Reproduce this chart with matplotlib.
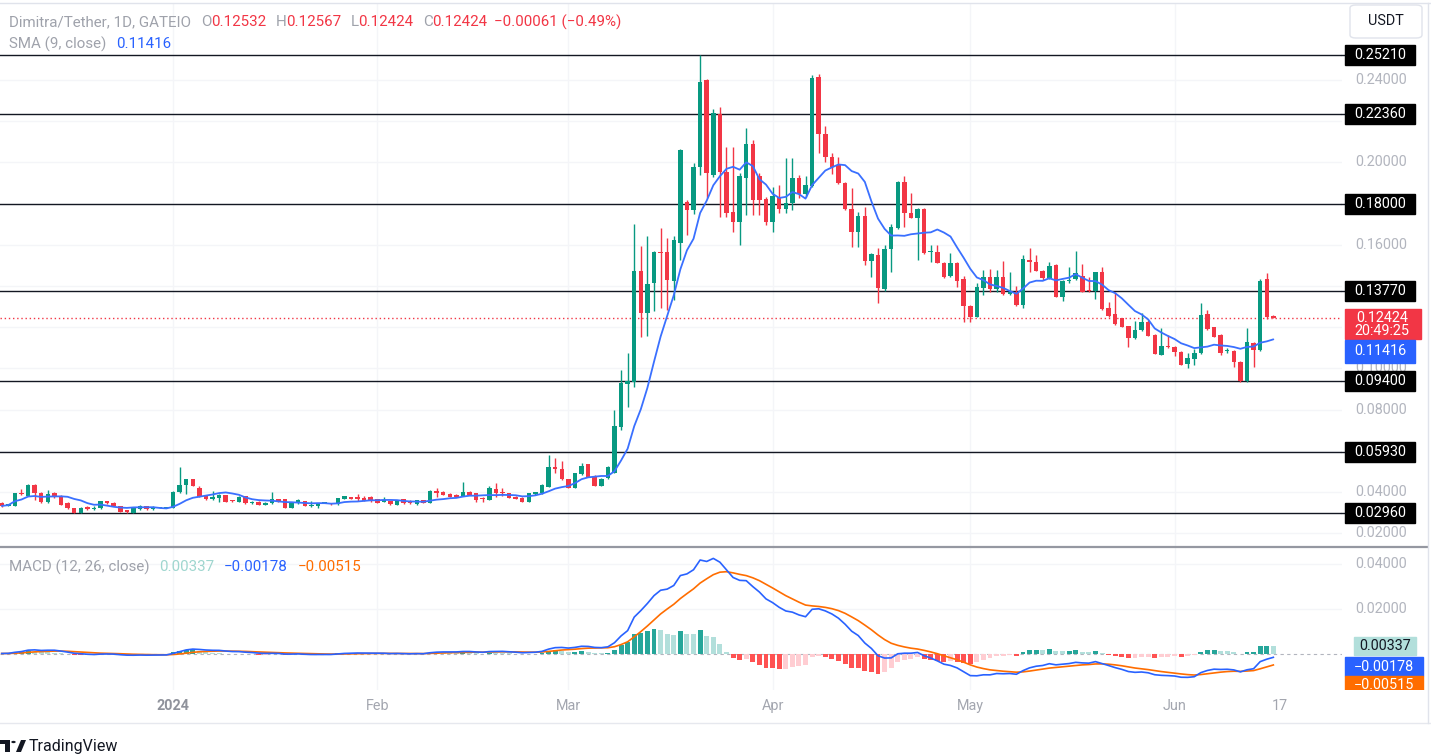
import numpy as np
import pandas as pd
import matplotlib
matplotlib.use('Agg')
import matplotlib.pyplot as plt
import matplotlib.transforms as mtransforms
from matplotlib.patches import Rectangle, Polygon, Circle, FancyBboxPatch

plt.rcParams['font.family'] = ['Roboto', 'DejaVu Sans']

# ---------------- data ----------------
start_date = '2023-12-06'
opens = [.0345,.0332,.0333,.0393,.0382,.0435,.0396,.0350,.0393,.0382,
         .0348,.0320,.0299,.0328,.0316,.0320,.0356,.0348,.0330,.0309,
         .0299,.0316,.0332,.0316,.0322,.0323,.0324,.0398,.0432,.0461,
         .0421,.0383,.0364,.0369,.0383,.0358,.0353,.0380,.0345,.0353,
         .0337,.0345,.0364,.0364,.0324,.0345,.0356,.0332,.0332,.0346,
         .0345,.0340,.0366,.0374,.0370,.0372,.0374,.0364,.0353,.0356,
         .0337,.0364,.0358,.0340,.0361,.0348,.0406,.0401,.0390,.0385,
         .0380,.0401,.0393,.0366,.0361,.0412,.0398,.0393,.0377,.0372,
         .0353,.0388,.0393,.0426,.0523,.0510,.0461,.0421,.0486,.0534,
         .0479,.0429,.0466,.0494,.0717,.0924,.0935,.1474,.1267,.1416,
         .1566,.1563,.1424,.1610,.1809,.1769,.1979,.2400,.1939,.2235,
         .1955,.1757,.1712,.1922,.2089,.1934,.1820,.1712,.1833,.1772,
         .1801,.1922,.1846,.1885,.2413,.2138,.2027,.1987,.1901,.1772,
         .1663,.1740,.1523,.1550,.1383,.1578,.1680,.1906,.1756,.1731,
         .1772,.1566,.1566,.1513,.1448,.1513,.1432,.1303,.1251,.1388,
         .1442,.1383,.1445,.1361,.1372,.1306,.1526,.1515,.1474,.1437,
         .1502,.1348,.1424,.1432,.1448,.1378,.1375,.1466,.1294,.1264,
         .1243,.1205,.1146,.1186,.1226,.1162,.1065,.1110,.1105,.1081,
         .1021,.1044,.1073,.1264,.1199,.1162,.1084,.1086,.1032,.0940,
         .1124,.1089,.1432,.12532]
highs = [.0350,.0343,.0396,.0414,.0437,.0437,.0400,.0409,.0401,.0385,
         .0350,.0322,.0326,.0330,.0330,.0358,.0358,.0350,.0332,.0312,
         .0328,.0335,.0334,.0330,.0325,.0326,.0405,.0519,.0465,.0463,
         .0430,.0385,.0404,.0388,.0385,.0362,.0382,.0382,.0355,.0355,
         .0350,.0401,.0366,.0366,.0350,.0364,.0358,.0356,.0347,.0350,
         .0347,.0372,.0382,.0377,.0390,.0380,.0380,.0366,.0374,.0358,
         .0363,.0366,.0360,.0363,.0363,.0409,.0417,.0404,.0393,.0388,
         .0450,.0404,.0396,.0377,.0429,.0442,.0417,.0396,.0380,.0374,
         .0396,.0401,.0437,.0579,.0563,.0552,.0463,.0493,.0542,.0536,
         .0481,.0466,.0526,.0798,.0992,.1076,.1701,.1594,.1642,.1570,
         .1680,.1631,.1640,.2065,.1815,.1995,.2521,.2405,.2257,.2267,
         .2075,.2075,.1947,.2165,.2108,.1947,.1833,.1882,.1890,.2019,
         .2019,.1939,.1934,.2424,.2429,.2176,.2044,.2027,.1906,.1874,
         .1761,.1782,.1560,.1583,.1599,.1701,.1911,.1933,.1850,.1777,
         .1777,.1598,.1598,.1515,.1558,.1515,.1448,.1305,.1416,.1477,
         .1480,.1477,.1523,.1469,.1400,.1550,.1583,.1550,.1477,.1518,
         .1505,.1430,.1490,.1571,.1506,.1445,.1468,.1490,.1324,.1372,
         .1246,.1207,.1231,.1270,.1234,.1165,.1194,.1162,.1107,.1083,
         .1073,.1092,.1319,.1283,.1202,.1165,.1097,.1089,.1035,.1194,
         .1126,.1432,.1461,.12567]
lows = [.0328,.0330,.0331,.0386,.0380,.0361,.0348,.0348,.0369,.0335,
        .0318,.0297,.0297,.0314,.0314,.0318,.0343,.0330,.0302,.0300,
        .0297,.0314,.0314,.0312,.0321,.0322,.0322,.0396,.0390,.0427,
        .0375,.0362,.0362,.0353,.0351,.0353,.0351,.0343,.0343,.0335,
        .0335,.0343,.0352,.0322,.0322,.0343,.0330,.0328,.0320,.0345,
        .0338,.0338,.0364,.0365,.0358,.0354,.0351,.0346,.0351,.0338,
        .0335,.0343,.0343,.0338,.0346,.0346,.0374,.0383,.0375,.0375,
        .0378,.0383,.0353,.0353,.0359,.0377,.0380,.0370,.0364,.0351,
        .0351,.0386,.0391,.0424,.0490,.0459,.0419,.0419,.0484,.0472,
        .0427,.0427,.0464,.0490,.0700,.0814,.0911,.1154,.1157,.1279,
        .1291,.1283,.1332,.1526,.1647,.1750,.1939,.1825,.1930,.1736,
        .1736,.1664,.1599,.1744,.1744,.1744,.1696,.1663,.1752,.1752,
        .1769,.1825,.1833,.1880,.2044,.2003,.1943,.1895,.1770,.1591,
        .1591,.1502,.1445,.1319,.1374,.1469,.1675,.1688,.1728,.1526,
        .1555,.1518,.1510,.1440,.1445,.1396,.1226,.1226,.1249,.1356,
        .1372,.1372,.1356,.1358,.1302,.1291,.1469,.1472,.1430,.1435,
        .1345,.1329,.1412,.1429,.1370,.1370,.1335,.1283,.1250,.1210,
        .1199,.1102,.1143,.1183,.1155,.1068,.1063,.1097,.1062,.1014,
        .1000,.1016,.1070,.1186,.1152,.1065,.1073,.1005,.0935,.0935,
        .1008,.1086,.1238,.12424]
closes = [.0332,.0340,.0393,.0388,.0435,.0393,.0350,.0390,.0382,.0337,
          .0320,.0299,.0324,.0316,.0322,.0356,.0345,.0332,.0304,.0305,
          .0320,.0330,.0316,.0324,.0324,.0325,.0401,.0434,.0461,.0429,
          .0377,.0364,.0374,.0385,.0353,.0355,.0377,.0345,.0353,.0337,
          .0348,.0364,.0354,.0324,.0348,.0361,.0332,.0334,.0345,.0348,
          .0340,.0369,.0380,.0367,.0368,.0356,.0361,.0348,.0361,.0340,
          .0361,.0345,.0345,.0361,.0348,.0406,.0396,.0385,.0377,.0377,
          .0401,.0385,.0361,.0364,.0417,.0393,.0396,.0372,.0366,.0353,
          .0393,.0398,.0434,.0523,.0510,.0461,.0421,.0490,.0526,.0474,
          .0429,.0463,.0523,.0720,.0927,.0938,.1474,.1267,.1409,.1566,
          .1560,.1429,.1623,.2060,.1769,.1979,.2392,.1947,.2238,.1955,
          .1753,.1712,.1934,.2089,.1817,.1817,.1712,.1837,.1772,.1801,
          .1922,.1846,.1890,.2408,.2138,.2027,.1976,.1898,.1772,.1663,
          .1739,.1523,.1555,.1388,.1578,.1684,.1903,.1756,.1731,.1772,
          .1558,.1571,.1513,.1445,.1510,.1426,.1303,.1251,.1393,.1442,
          .1383,.1445,.1361,.1372,.1307,.1529,.1515,.1474,.1437,.1497,
          .1348,.1426,.1428,.1461,.1372,.1375,.1466,.1286,.1254,.1215,
          .1202,.1146,.1186,.1226,.1157,.1070,.1108,.1105,.1081,.1016,
          .1048,.1073,.1259,.1189,.1154,.1073,.1086,.1032,.0940,.1129,
          .1089,.1426,.12485,.12424]

level_values = [0.2521, 0.2236, 0.18, 0.1377, 0.094, 0.0593, 0.0296]
level_labels = ['0.25210', '0.22360', '0.18000', '0.13770', '0.09400', '0.05930', '0.02960']
price_ticks = [0.02, 0.04, 0.08, 0.10, 0.16, 0.20, 0.24]
grid_ticks = [0.02, 0.04, 0.06, 0.08, 0.10, 0.12, 0.14, 0.16, 0.18, 0.20, 0.22, 0.24]
macd_ticks = [0.02, 0.04]
time_ticks = ['2024-01-01', '2024-02-01', '2024-03-01', '2024-04-01', '2024-05-01', '2024-06-01', '2024-06-17']
time_labels = ['2024', 'Feb', 'Mar', 'Apr', 'May', 'Jun', '17']

last_price = 0.12424
sma_value = 0.11416
hist_value, macd_value, signal_value = 0.00337, -0.00178, -0.00515

# ---------------- styling ----------------
W, H = 1431, 756
GREEN, RED = '#089981', '#F23645'
BLUE, ORANGE = '#2962FF', '#FF6D00'
GRAY_TXT = '#9fa2ab'
SCALE_TXT = '#b2b5be'
FS_SCALE = 10.4
FS_LEG = 10.9

o = np.array(opens); c = np.array(closes)
h = np.maximum.reduce([np.array(highs), o, c])
l = np.minimum.reduce([np.array(lows), o, c])
dates = pd.date_range(start_date, periods=len(c), freq='D')
ref = pd.Timestamp('2024-01-01')
x = (dates - ref).days.values.astype(float)


def rect(x0, y0, x1, y1):
    return [x0 / W, 1 - y1 / H, (x1 - x0) / W, (y1 - y0) / H]


fig = plt.figure(figsize=(W / 100, H / 100), dpi=100)
fig.patch.set_facecolor('white')

XL = (-26.26, 177.42)
ax = fig.add_axes(rect(0, 3, 1342, 547))
axm = fig.add_axes(rect(0, 548, 1342, 690))
axp = fig.add_axes(rect(1342, 3, 1431, 547))
axmp = fig.add_axes(rect(1342, 548, 1431, 690))

PY = (0.01327, 0.27734)
MY = (-0.01622, 0.04689)
for a in (ax, axm):
    a.set_xlim(*XL)
    a.set_axis_off()
ax.set_ylim(*PY)
axm.set_ylim(*MY)
axp.set_xlim(1342, 1431); axp.set_ylim(*PY); axp.set_axis_off()
axmp.set_xlim(1342, 1431); axmp.set_ylim(*MY); axmp.set_axis_off()

# grid
tick_x = [(pd.Timestamp(t) - ref).days for t in time_ticks]
for tx in tick_x[:-1]:
    ax.axvline(tx, color='#f4f5f8', lw=1, zorder=0)
    axm.axvline(tx, color='#f4f5f8', lw=1, zorder=0)
for pt in grid_ticks:
    ax.axhline(pt, color='#f4f5f8', lw=1, zorder=0)
for mt in macd_ticks:
    axm.axhline(mt, color='#f4f5f8', lw=1, zorder=0)

# candles
cols = np.where(c >= o, GREEN, RED)
ax.vlines(x, l, h, colors=cols, lw=1, zorder=3)
body_bot = np.minimum(o, c)
body_h = np.maximum(np.abs(c - o), 0.0005)
ax.bar(x, body_h, width=0.68, bottom=body_bot, color=cols, lw=0, zorder=4)

# SMA 9
sma = pd.Series(c).rolling(9, min_periods=1).mean().values
ax.plot(x, sma, color='#3a70ff', lw=1.3, zorder=5, solid_capstyle='round')

# horizontal levels
for v in level_values:
    ax.axhline(v, color='#131722', lw=1.0, zorder=2)
ax.axhline(last_price, color=RED, lw=1, ls=(0, (1, 2)), zorder=2)

# price scale
for pt in price_ticks:
    axp.text(1381, pt, f'{pt:.5f}', color=SCALE_TXT, fontsize=FS_SCALE, ha='center', va='center', zorder=1)
for v, s in zip(level_values, level_labels):
    axp.add_patch(Rectangle((1345, v - 10 / 2060), 70, 20 / 2060, color='#000000', zorder=3, clip_on=False))
    axp.plot([1342, 1345], [v, v], color='#131722', lw=1, clip_on=False)
    axp.text(1380, v, s, color='white', fontsize=FS_SCALE, ha='center', va='center', zorder=4)
# last price box
axp.add_patch(Rectangle((1345, last_price - 20.5 / 2060), 76, 30 / 2060, color=RED, zorder=3, clip_on=False))
axp.text(1382, last_price + 0.5 / 2060, f'{last_price:.5f}', color='white', fontsize=FS_SCALE, ha='center', va='center', zorder=4)
axp.text(1382, last_price - 13 / 2060, '20:49:25', color='white', fontsize=FS_SCALE, ha='center', va='center', zorder=4)
# SMA box (pushed below last price box)
sma_c = sma_value - 12 / 2060
axp.add_patch(Rectangle((1345, sma_c - 11.5 / 2060), 70, 23 / 2060, color=BLUE, zorder=3, clip_on=False))
axp.text(1380, sma_c, f'{sma_value:.5f}', color='white', fontsize=FS_SCALE, ha='center', va='center', zorder=4)

# USDT button
fig.add_artist(FancyBboxPatch((1350 / W, 1 - 38 / H), 72 / W, 33 / H, boxstyle='round,pad=0,rounding_size=0.004',
                              transform=fig.transFigure, fc='white', ec='#e0e3eb', lw=1))
fig.text(1386 / W, 1 - 21 / H, 'USDT', color='#131722', fontsize=10.4, ha='center', va='center')

# ---------------- MACD ----------------
cs = pd.Series(c)
ema12 = cs.ewm(span=12, adjust=False).mean()
ema26 = cs.ewm(span=26, adjust=False).mean()
macd = (ema12 - ema26).values
signal = pd.Series(macd).ewm(span=9, adjust=False).mean().values
hist = macd - signal
prev = np.concatenate([[0.0], hist[:-1]])
hcols = np.where(hist >= 0, np.where(hist > prev, '#26A69A', '#B2DFDB'),
                 np.where(hist < prev, '#FF5252', '#FFCDD2'))
axm.axhline(0, color='#b2b5be', lw=0.8, ls=(0, (3, 3)), zorder=1)
axm.bar(x, hist, width=0.75, color=hcols, lw=0, zorder=2)
axm.plot(x, macd, color=BLUE, lw=1.2, zorder=4)
axm.plot(x, signal, color=ORANGE, lw=1.2, zorder=3)

for mt in macd_ticks:
    axmp.text(1381, mt, f'{mt:.5f}', color=SCALE_TXT, fontsize=FS_SCALE, ha='center', va='center')
MU = 0.02 / 45
axmp.add_patch(Rectangle((1354, hist_value - 9 * MU), 62, 18 * MU, color='#B2DFDB', zorder=3))
axmp.text(1385, hist_value, f'{hist_value:.5f}', color='#131722', fontsize=FS_SCALE, ha='center', va='center', zorder=4)
mc = macd_value - 9 * MU
axmp.add_patch(Rectangle((1345, mc - 9.5 * MU), 78, 19 * MU, color=BLUE, zorder=3))
axmp.text(1384, mc, '\u2212' + f'{abs(macd_value):.5f}', color='white', fontsize=FS_SCALE, ha='center', va='center', zorder=4)
sc = signal_value - 20 * MU
axmp.add_patch(Rectangle((1345, sc - 9.5 * MU), 78, 19 * MU, color=ORANGE, zorder=3))
axmp.text(1384, sc, '\u2212' + f'{abs(signal_value):.5f}', color='white', fontsize=FS_SCALE, ha='center', va='center', zorder=4)

# ---------------- legends ----------------
renderer = fig.canvas.get_renderer()


def seq_text(x0, y0, parts, size=FS_LEG):
    xx = x0
    for s, col, gap in parts:
        t = fig.text(xx / W, 1 - y0 / H, s, color=col, fontsize=size, ha='left', va='center')
        bb = t.get_window_extent(renderer=renderer)
        xx += bb.width + gap


seq_text(9, 22, [('Dimitra/Tether, 1D, GATEIO', GRAY_TXT, 10),
                 ('O', GRAY_TXT, 0), (f'{opens[-1]:.5f}', RED, 9),
                 ('H', GRAY_TXT, 0), (f'{highs[-1]:.5f}', RED, 9),
                 ('L', GRAY_TXT, 0), (f'{lows[-1]:.5f}', RED, 9),
                 ('C', GRAY_TXT, 0), (f'{closes[-1]:.5f}', RED, 7),
                 ('\u22120.00061 (\u22120.49%)', RED, 0)])
seq_text(9, 44, [('SMA (9, close)', GRAY_TXT, 10), (f'{sma_value:.5f}', BLUE, 0)])
seq_text(9, 567, [('MACD (12, 26, close)', GRAY_TXT, 9), (f'{hist_value:.5f}', '#9fd6cf', 10),
                  ('\u2212' + f'{abs(macd_value):.5f}', BLUE, 10), ('\u2212' + f'{abs(signal_value):.5f}', ORANGE, 0)])

# time axis labels
ttrans = mtransforms.blended_transform_factory(ax.transData, fig.transFigure)
for tx, lab in zip(tick_x, time_labels):
    bold = lab == '2024'
    ax.text(tx, 1 - 706 / H, lab, transform=ttrans, color='#8f929b' if bold else '#a3a6af',
            fontsize=10.4, ha='center', va='center', fontweight='bold' if bold else 'normal', clip_on=False)

# frame lines
fig.add_artist(plt.Line2D([0, 1], [1 - 2.5 / H, 1 - 2.5 / H], color='#e0e3eb', lw=1, transform=fig.transFigure))
fig.add_artist(plt.Line2D([0, 1427 / W], [1 - 546.5 / H, 1 - 546.5 / H], color='#9598a1', lw=1.6, transform=fig.transFigure))
fig.add_artist(plt.Line2D([0, 1], [1 - 723 / H, 1 - 723 / H], color='#e6e8ee', lw=1, transform=fig.transFigure))
fig.add_artist(plt.Line2D([1427.5 / W, 1427.5 / W], [1 - 723 / H, 1 - 2.5 / H], color='#e0e3eb', lw=1, transform=fig.transFigure))

# TradingView logo
def P(xp, yp):
    return (xp / W, 1 - yp / H)
fig.add_artist(Polygon([P(0, 740), P(10, 740), P(10, 752), P(5, 752), P(5, 744), P(0, 744)],
                       closed=True, transform=fig.transFigure, fc='#131722', ec='none'))
fig.add_artist(Circle(P(13.5, 742), 2.2 / W, transform=fig.transFigure, fc='#131722', ec='none'))
fig.add_artist(Polygon([P(16, 752), P(21, 740), P(26, 740), P(21, 752)], closed=True,
                       transform=fig.transFigure, fc='#131722', ec='none'))
fig.text(29 / W, 1 - 746 / H, 'TradingView', color='#131722', fontsize=11.5, ha='left', va='center')

fig.savefig('out.png', dpi=100, facecolor='white')
